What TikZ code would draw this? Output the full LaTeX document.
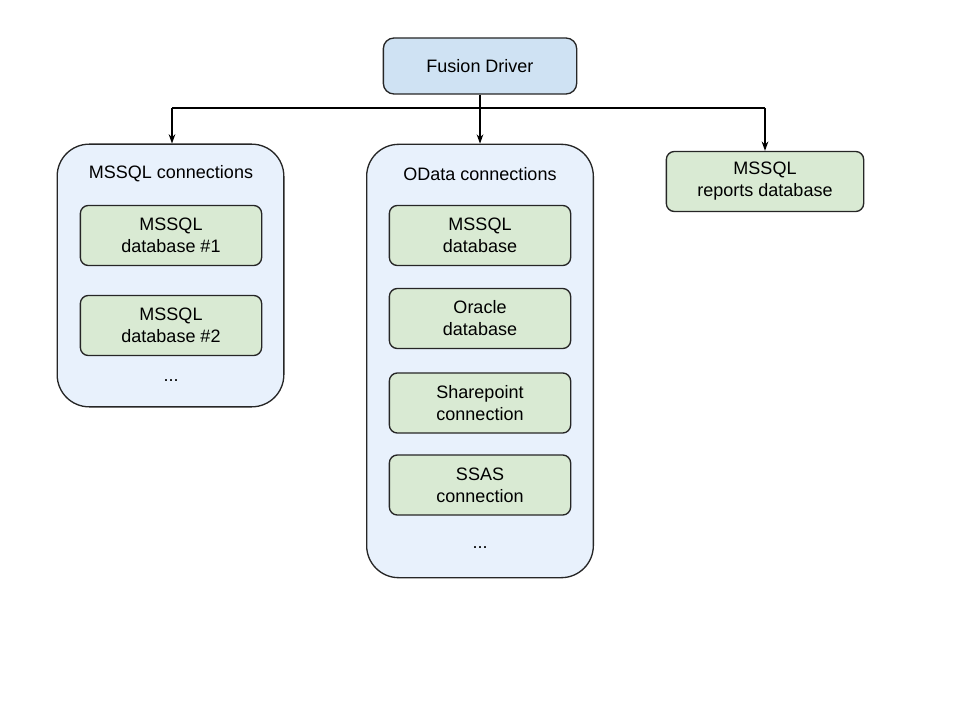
\documentclass[tikz,border=0pt]{standalone}
\usepackage{fontspec}
\setmainfont{Liberation Sans}
\usepackage{xcolor}
\usetikzlibrary{
  arrows.meta,
  positioning,
  calc
}
\definecolor{drivercolor}{HTML}{CFE2F3}
\definecolor{groupcolor}{HTML}{E8F1FC}
\definecolor{dbcolor}{HTML}{D9EAD3}

\begin{document}
\begin{tikzpicture}[
  x=0.75pt, y=-0.75pt,
  every node/.style={draw=black!85, line width=1pt, align=center,
                     font=\fontsize{13.5}{16.5}\selectfont},
  driverbox/.style={fill=drivercolor, rounded corners=8pt,
                    minimum width=145pt, minimum height=42pt},
  groupbox/.style={fill=groupcolor, rounded corners=24pt, minimum width=170pt},
  dbbox/.style={fill=dbcolor, rounded corners=6pt,
                minimum width=136pt, minimum height=45pt},
  plain/.style={draw=none, fill=none},
  >={Stealth[length=7pt,width=5pt]}
]
  \fill[white] (0,0) rectangle (960,720);

  % Top: the driver
  \node[driverbox] (driver) at (480,66) {Fusion Driver};

  % Groups of connections
  \node[groupbox, minimum height=197pt] (mssqlgrp) at (170.5,275.5) {};
  \node[groupbox, minimum height=325pt] (odatagrp) at (480,361) {};
  \node[dbbox, minimum width=148pt] (reportsdb) at (765,181.5) {MSSQL\\reports database};

  % MSSQL group content
  \node[plain] (mssqltitle) at (171,174) {MSSQL connections};
  \node[dbbox] (mssql1) at (171,235.5) {MSSQL\\database \#1};
  \node[dbbox] (mssql2) at (171,325.5) {MSSQL\\database \#2};
  \node[plain] (mssqlmore) at (171,381) {...};

  % OData group content
  \node[plain] (odatatitle) at (480,174) {OData connections};
  \node[dbbox] (odatamssql) at (480,235.5) {MSSQL\\database};
  \node[dbbox] (odataoracle) at (480,318.5) {Oracle\\database};
  \node[dbbox] (odatasp) at (480,403) {Sharepoint\\connection};
  \node[dbbox] (odatassas) at (480,485) {SSAS\\connection};
  \node[plain] (odatamore) at (480,548) {...};

  % Connectors
  \coordinate (jmid) at (480,108);
  \coordinate (jleft) at (172,108);
  \coordinate (jright) at (765,108);
  \draw[line width=1pt] (jleft) -- (jright);
  \draw[->, line width=1pt] (driver.south) -- (odatagrp.north);
  \draw[->, line width=1pt] (jleft) -- (mssqlgrp.north -| jleft);
  \draw[->, line width=1pt] (jright) -- (reportsdb.north);

\end{tikzpicture}
\end{document}
